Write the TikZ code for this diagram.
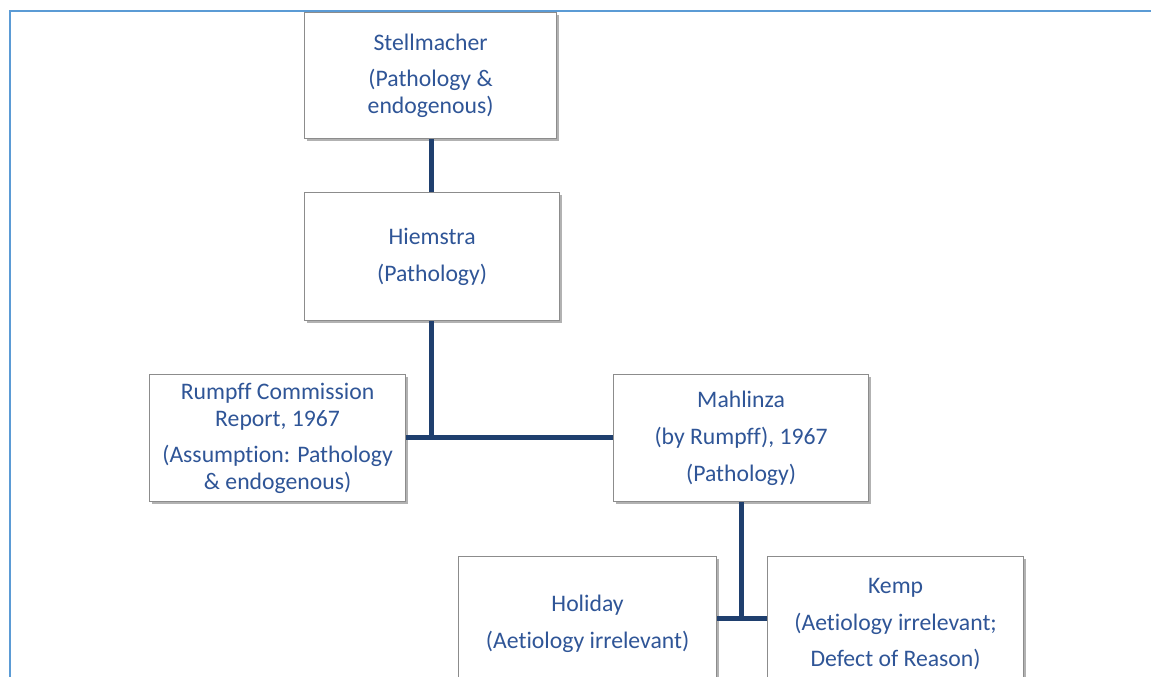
\documentclass[tikz,border=0pt]{standalone}
\usepackage{fontspec}
\setmainfont[Ligatures=NoCommon]{Carlito}
\usetikzlibrary{shadows}
\definecolor{frameblue}{HTML}{5B9BD5}
\definecolor{linenavy}{HTML}{1F3F6E}
\definecolor{textblue}{HTML}{2F5597}
\definecolor{boxgray}{HTML}{8C8C8C}
\tikzset{
  card/.style={draw=boxgray, line width=1.2pt, fill=white, text=textblue,
    align=center, inner sep=0pt, anchor=north west,
    font=\fontsize{23.7}{27}\selectfont,
    drop shadow={shadow xshift=2.5pt, shadow yshift=-2.5pt, fill=black, opacity=0.3}},
  link/.style={draw=linenavy, line width=5pt},
  outerframe/.style={draw=frameblue, line width=2.2pt}
}
\begin{document}
\begin{tikzpicture}[x=1pt,y=-1pt]
\useasboundingbox (0,0) rectangle (1151,677);
\draw[outerframe] (10,690) -- (10,11) -- (1160,11);
% boxes
\node[card, minimum width=252pt, minimum height=126pt] (stell) at (304,12)
  {Stellmacher\\[9pt](Pathology \&\\endogenous)};
\node[card, minimum width=255pt, minimum height=128pt] (hiem) at (304,192)
  {Hiemstra\\[10pt](Pathology)};
\node[card, minimum width=256pt, minimum height=127pt] (rumpff) at (149,374)
  {Rumpff Commission\\Report, 1967\\[9pt](Assumption: Pathology\\\& endogenous)};
\node[card, minimum width=255pt, minimum height=127pt] (mahl) at (613,374)
  {Mahlinza\\[10pt](by Rumpff), 1967\\[10pt](Pathology)};
\node[card, minimum width=258pt, minimum height=150pt] (holi) at (458,556)
  {\\[-52pt]Holiday\\[10pt](Aetiology irrelevant)};
\node[card, minimum width=256pt, minimum height=150pt] (kemp) at (767,556)
  {\\[-52pt]Kemp\\[10pt](Aetiology irrelevant;\\[9pt]Defect of Reason)};
% connectors
\coordinate (j1) at (431,437);
\coordinate (j2) at (741,618);
\draw[link] (stell.south -| j1) -- (hiem.north -| j1);
\draw[link] (hiem.south -| j1) -- (j1);
\draw[link] (rumpff.east |- j1) -- (mahl.west |- j1);
\draw[link] (mahl.south -| j2) -- (j2);
\draw[link] (holi.east |- j2) -- (kemp.west |- j2);
\end{tikzpicture}
\end{document}
